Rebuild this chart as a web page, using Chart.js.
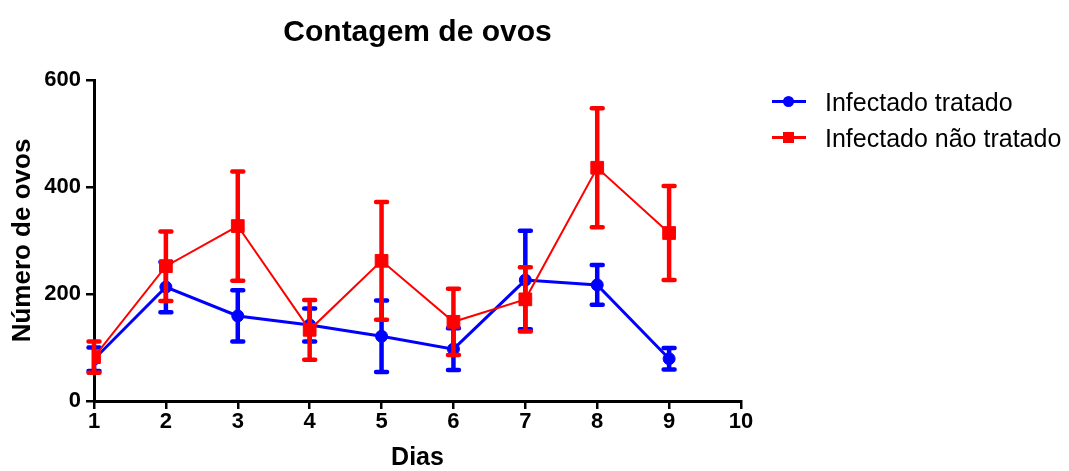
<!DOCTYPE html>
<html>
<head>
<meta charset="utf-8">
<script src="https://cdn.jsdelivr.net/npm/chart.js@4.4.1/dist/chart.umd.min.js"></script>
<style>
  body { margin: 0; background: #fff; }
  #wrap { position: relative; width: 1069px; height: 471px; }
  #legend { position: absolute; left: 770px; top: 84px; font-family: "Liberation Sans", Arial, sans-serif; font-size: 25px; color: #000; }
  .item { position: relative; height: 36px; line-height: 36px; padding-left: 55px; white-space: nowrap; }
  .ln { position: absolute; left: 2px; top: 16px; width: 34px; height: 3px; }
  .mk { position: absolute; }
</style>
</head>
<body>
<div id="wrap">
  <canvas id="ovosChart"></canvas>
  <div id="legend"></div>
</div>
<script>
const dias = [1, 2, 3, 4, 5, 6, 7, 8, 9];

const tratado = [78, 213, 159, 142, 121, 97, 226, 217, 79];
const tratadoErr = [22, 47, 48, 31, 67, 39, 92, 37, 20];

const naoTratado = [82, 252, 327, 133, 262, 148, 190, 436, 314];
const naoTratadoErr = [29, 65, 102, 56, 110, 62, 60, 111, 88];

const xTicks = [1, 2, 3, 4, 5, 6, 7, 8, 9, 10];
const yTicks = [0, 200, 400, 600];

Chart.defaults.font.family = '"Liberation Sans", Arial, sans-serif';
Chart.defaults.color = '#000';

// error bars drawn after each dataset, using the chart scales
const errorBars = {
    id: 'errorBars',
    afterDatasetDraw(chart, args) {
        const ds = chart.data.datasets[args.index];
        const x = chart.scales.x;
        const y = chart.scales.y;
        const ctx = chart.ctx;
        ctx.save();
        ctx.strokeStyle = ds.borderColor;
        ctx.lineWidth = 4.5;
        ctx.lineCap = 'round';
        ds.data.forEach((p, i) => {
            const px = x.getPixelForValue(p.x);
            const top = y.getPixelForValue(p.y + ds.errors[i]);
            const bot = y.getPixelForValue(p.y - ds.errors[i]);
            ctx.beginPath();
            ctx.moveTo(px, top);
            ctx.lineTo(px, bot);
            ctx.moveTo(px - 5.5, top);
            ctx.lineTo(px + 5.5, top);
            ctx.moveTo(px - 5.5, bot);
            ctx.lineTo(px + 5.5, bot);
            ctx.stroke();
        });
        ctx.restore();
    }
};

const chart = new Chart(document.getElementById('ovosChart').getContext('2d'), {
    type: 'line',
    data: {
        datasets: [{
            label: 'Infectado tratado',
            data: dias.map((d, i) => ({ x: d, y: tratado[i] })),
            errors: tratadoErr,
            borderColor: 'rgb(0, 0, 255)',
            backgroundColor: 'rgb(0, 0, 255)',
            borderWidth: 3,
            pointStyle: 'circle',
            pointRadius: 6,
            pointBorderWidth: 1,
            order: 2,
            fill: false
        }, {
            label: 'Infectado não tratado',
            data: dias.map((d, i) => ({ x: d, y: naoTratado[i] })),
            errors: naoTratadoErr,
            borderColor: 'rgb(255, 0, 0)',
            backgroundColor: 'rgb(255, 0, 0)',
            borderWidth: 2,
            pointStyle: 'rect',
            pointRadius: 9,
            pointBorderWidth: 1,
            order: 1,
            fill: false
        }]
    },
    options: {
        responsive: true,
        maintainAspectRatio: false,
        animation: false,
        layout: { padding: { left: 0, right: 328, top: 0, bottom: 0 } },
        plugins: {
            legend: { display: false },
            tooltip: { enabled: false },
            title: {
                display: true,
                text: 'Contagem de ovos',
                fullSize: false,
                font: { size: 30, weight: 'bold' },
                padding: { top: 15, bottom: 29 }
            }
        },
        scales: {
            x: {
                type: 'linear',
                min: 1,
                max: 10,
                afterFit: (scale) => { scale.height = 70; },
                afterBuildTicks: (scale) => { scale.ticks = xTicks.map(v => ({ value: v })); },
                ticks: { font: { size: 22, weight: 'bold' }, padding: 0, maxRotation: 0 },
                grid: { drawOnChartArea: false, drawTicks: true, tickLength: 8, color: '#000', lineWidth: 2.5 },
                border: { color: '#000', width: 3 },
                title: { display: true, text: 'Dias', font: { size: 25, weight: 'bold', lineHeight: 1 }, padding: { top: 0, bottom: 0 } }
            },
            y: {
                min: 0,
                max: 600,
                afterFit: (scale) => { scale.width = 94; },
                afterBuildTicks: (scale) => { scale.ticks = yTicks.map(v => ({ value: v })); },
                ticks: { font: { size: 22, weight: 'bold' }, padding: 5 },
                grid: { drawOnChartArea: false, drawTicks: true, tickLength: 8, color: '#000', lineWidth: 2.5 },
                border: { color: '#000', width: 3 },
                title: { display: true, text: 'Número de ovos', font: { size: 26, weight: 'bold', lineHeight: 1.2 }, padding: { top: 7, bottom: 0 } }
            }
        }
    },
    plugins: [errorBars]
});

// legend built from the datasets
const legend = document.getElementById('legend');
chart.data.datasets.forEach(ds => {
    const item = document.createElement('div');
    item.className = 'item';
    const ln = document.createElement('span');
    ln.className = 'ln';
    ln.style.background = ds.borderColor;
    const mk = document.createElement('span');
    mk.className = 'mk';
    mk.style.background = ds.borderColor;
    if (ds.pointStyle === 'circle') {
        mk.style.cssText += 'left:13px;top:12px;width:11px;height:11px;border-radius:50%;';
    } else {
        mk.style.cssText += 'left:13px;top:12px;width:11px;height:11px;';
    }
    item.appendChild(ln);
    item.appendChild(mk);
    item.appendChild(document.createTextNode(ds.label));
    legend.appendChild(item);
});
</script>
</body>
</html>
